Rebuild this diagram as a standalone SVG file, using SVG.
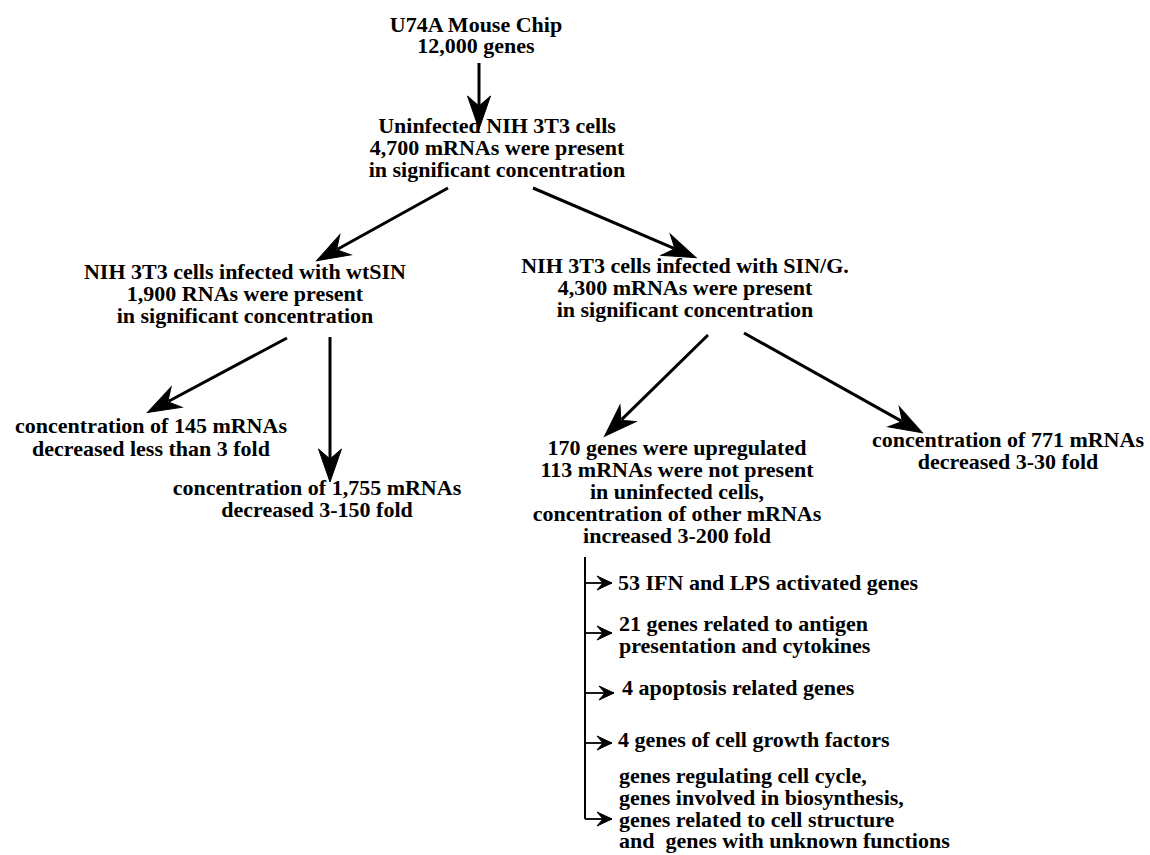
<svg xmlns="http://www.w3.org/2000/svg" width="1150" height="855" viewBox="0 0 1150 855">
<style>
text{font-family:"Liberation Serif","Times New Roman",serif;font-weight:bold;font-size:22px;fill:#000}
.c{text-anchor:middle}
.s{text-anchor:start}
.big{stroke:#000;stroke-width:3;fill:none;marker-end:url(#ah)}
.sm{stroke:#000;stroke-width:1.8;fill:none;marker-end:url(#sh)}
</style>
<defs>
<marker id="ah" markerUnits="userSpaceOnUse" viewBox="-24 -13 38 26" markerWidth="38" markerHeight="26" refX="-12" refY="0" orient="auto">
<path d="M12,0 L-21,-11.5 L-11,0 L-21,11.5 Z" fill="#000" stroke="#000" stroke-width="1" stroke-linejoin="miter"/>
</marker>
<marker id="sh" markerUnits="userSpaceOnUse" viewBox="-18 -9 20 18" markerWidth="20" markerHeight="18" refX="0" refY="0" orient="auto">
<path d="M-15,-7 L0,0 L-15,7 L-9,0 Z" fill="#000" stroke="#000" stroke-width="1"/>
</marker>
</defs>
<rect width="1150" height="855" fill="#fff"/>
<g id="connectors">
<line class="big" x1="479" y1="63" x2="479" y2="105"/>
<line class="big" x1="448" y1="188" x2="337.5" y2="249.2"/>
<line class="big" x1="533" y1="188" x2="674" y2="248.3"/>
<line class="big" x1="287" y1="338" x2="168.6" y2="401.3"/>
<line class="big" x1="330" y1="337" x2="330" y2="458"/>
<line class="big" x1="708" y1="335" x2="621.6" y2="419.6"/>
<line class="big" x1="744" y1="333" x2="901.5" y2="421.1"/>
<path d="M585,557 V819" stroke="#000" stroke-width="2" fill="none"/>
<line class="sm" x1="585" y1="583" x2="612" y2="583"/>
<line class="sm" x1="585" y1="633" x2="612" y2="633"/>
<line class="sm" x1="585" y1="693" x2="614" y2="693"/>
<line class="sm" x1="585" y1="743" x2="612" y2="743"/>
<line class="sm" x1="585" y1="819" x2="612" y2="819"/>
</g>
<g id="chip">
<text class="c" x="476" y="32">U74A Mouse Chip</text>
<text class="c" x="476" y="53">12,000 genes</text>
</g>
<g id="uninfected">
<text class="c" x="497" y="133">Uninfected NIH 3T3 cells</text>
<text class="c" x="497" y="155">4,700 mRNAs were present</text>
<text class="c" x="497" y="177">in significant concentration</text>
</g>
<g id="wtsin">
<text class="c" x="245" y="279">NIH 3T3 cells infected with wtSIN</text>
<text class="c" x="245" y="301">1,900 RNAs were present</text>
<text class="c" x="245" y="323">in significant concentration</text>
</g>
<g id="sing">
<text class="c" x="685" y="273">NIH 3T3 cells infected with SIN/G.</text>
<text class="c" x="685" y="295">4,300 mRNAs were present</text>
<text class="c" x="685" y="317">in significant concentration</text>
</g>
<g id="dec145">
<text class="c" x="151" y="433">concentration of 145 mRNAs</text>
<text class="c" x="151" y="456">decreased less than 3 fold</text>
</g>
<g id="dec1755">
<text class="c" x="317" y="495">concentration of 1,755 mRNAs</text>
<text class="c" x="317" y="517">decreased 3-150 fold</text>
</g>
<g id="up170">
<text class="c" x="677" y="455">170 genes were upregulated</text>
<text class="c" x="677" y="477">113 mRNAs were not present</text>
<text class="c" x="677" y="499">in uninfected cells,</text>
<text class="c" x="677" y="521">concentration of other mRNAs</text>
<text class="c" x="677" y="543">increased 3-200 fold</text>
</g>
<g id="dec771">
<text class="c" x="1008" y="447">concentration of 771 mRNAs</text>
<text class="c" x="1008" y="469">decreased 3-30 fold</text>
</g>
<g id="ifn">
<text class="s" x="618" y="590">53 IFN and LPS activated genes</text>
</g>
<g id="antigen">
<text class="s" x="619" y="631">21 genes related to antigen</text>
<text class="s" x="619" y="653">presentation and cytokines</text>
</g>
<g id="apoptosis">
<text class="s" x="622" y="695">4 apoptosis related genes</text>
</g>
<g id="growth">
<text class="s" x="618" y="747">4 genes of cell growth factors</text>
</g>
<g id="other">
<text class="s" x="619" y="783">genes regulating cell cycle,</text>
<text class="s" x="619" y="805">genes involved in biosynthesis,</text>
<text class="s" x="619" y="827">genes related to cell structure</text>
<text class="s" x="619" y="848" xml:space="preserve">and  genes with unknown functions</text>
</g>
</svg>
